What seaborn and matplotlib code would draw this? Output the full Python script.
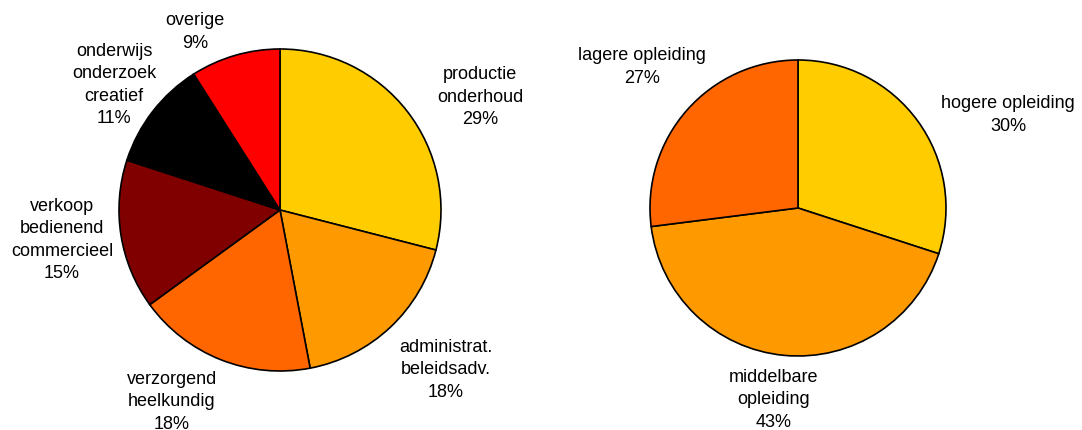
import matplotlib
matplotlib.use("Agg")
import matplotlib.pyplot as plt
import seaborn as sns

# beroepsklasse (left pie), clockwise from 12 o'clock
occ_labels = ["productie\nonderhoud", "administrat.\nbeleidsadv.", "verzorgend\nheelkundig",
              "verkoop\nbedienend\ncommercieel", "onderwijs\nonderzoek\ncreatief", "overige"]
occ_values = [29, 18, 18, 15, 11, 9]
occ_colors = ["#FFCC00", "#FF9900", "#FF6600", "#800000", "#000000", "#FF0000"]

# opleidingsniveau (right pie)
edu_labels = ["hogere opleiding", "middelbare\nopleiding", "lagere opleiding"]
edu_values = [30, 43, 27]
edu_colors = ["#FFCC00", "#FF9900", "#FF6600"]

# label anchor points in pixel coords (layout only)
occ_label_pos = [(480, 97), (446, 370), (172, 402), (62, 240), (114, 85), (195, 32)]
edu_label_pos = [(1008, 115), (774, 400), (642, 67)]

sns.set_theme(style="white")
plt.rcParams["font.family"] = ["Liberation Sans", "DejaVu Sans"]

W, H = 1082, 430
fig = plt.figure(figsize=(W / 100, H / 100), dpi=100)
ax = fig.add_axes([0, 0, 1, 1])

wedge_style = dict(edgecolor="black", linewidth=1.2)

# y axis is inverted (pixel coords), so counterclock=True draws clockwise on screen
ax.pie(occ_values, colors=occ_colors, center=(280, 210), radius=161,
       startangle=-90, counterclock=True, wedgeprops=wedge_style)
ax.pie(edu_values, colors=edu_colors, center=(798, 208), radius=148,
       startangle=-90, counterclock=True, wedgeprops=wedge_style)

ax.set_xlim(0, W)
ax.set_ylim(H, 0)
ax.set_aspect("equal")
ax.axis("off")

for lab, val, (x, y) in zip(occ_labels, occ_values, occ_label_pos):
    ax.text(x, y, f"{lab}\n{val}%", ha="center", va="center", fontsize=13,
            linespacing=1.42, color="black")
for lab, val, (x, y) in zip(edu_labels, edu_values, edu_label_pos):
    ax.text(x, y, f"{lab}\n{val}%", ha="center", va="center", fontsize=13,
            linespacing=1.42, color="black")

fig.savefig("out.png", dpi=100, facecolor="white")
